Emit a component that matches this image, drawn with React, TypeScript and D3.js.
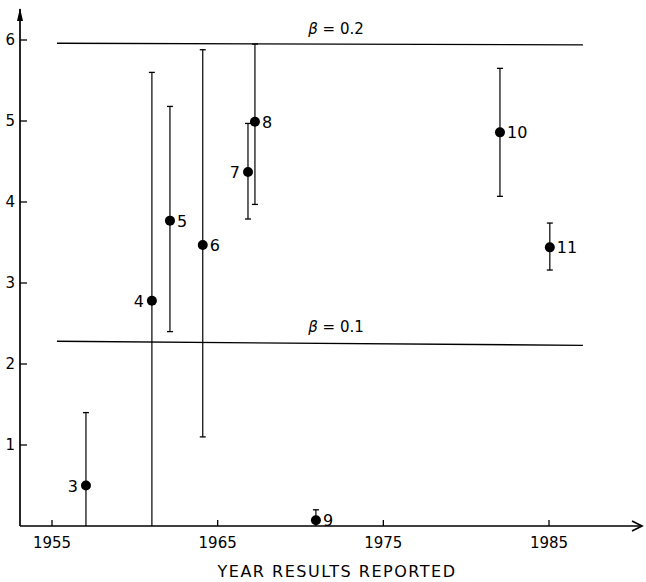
import React, { useEffect, useRef } from 'react';
import * as d3 from 'd3';

// study number, year reported, estimate, error bar low/high
const ids = ['3', '4', '5', '6', '7', '8', '9', '10', '11'];
const years = [1957.05, 1961.03, 1962.12, 1964.1, 1966.83, 1967.25, 1970.93, 1982.04, 1985.05];
const values = [0.5, 2.78, 3.77, 3.47, 4.37, 4.99, 0.07, 4.86, 3.44];
const lows = [0, 0, 2.4, 1.1, 3.79, 3.97, 0, 4.07, 3.16];
const highs = [1.4, 5.6, 5.18, 5.88, 4.97, 5.95, 0.2, 5.65, 3.74];
const labelLeft = ['3', '4', '7'];

const xTicks = [1955, 1965, 1975, 1985];
const yTicks = [1, 2, 3, 4, 5, 6];

// reference lines: value text, start / end year, value at start / end
const refLabels = ['0.2', '0.1'];
const refX = [[1955.3, 1987.05], [1955.3, 1987.05]];
const refY = [[5.96, 5.94], [2.28, 2.23]];

const W = 646;
const H = 582;

const App = () => {
  const ref = useRef<SVGSVGElement>(null);

  useEffect(() => {
    const svg = d3.select(ref.current);
    svg.selectAll('*').remove();

    const x = d3.scaleLinear().domain([1955, 1985]).range([52, 549]);
    const y = d3.scaleLinear().domain([0, 6]).range([526, 40]);
    const x0 = 20;
    const y0 = y(0);
    const font = 'DejaVu Sans, sans-serif';

    // axes with arrows
    svg.append('line')
      .attr('x1', x0).attr('y1', y0).attr('x2', 641).attr('y2', y0)
      .attr('stroke', '#000').attr('stroke-width', 1.7);
    svg.append('path')
      .attr('d', `M632,${y0 - 5} L642,${y0} L632,${y0 + 5}`)
      .attr('fill', 'none').attr('stroke', '#000').attr('stroke-width', 1.7);
    svg.append('line')
      .attr('x1', x0).attr('y1', y0).attr('x2', x0).attr('y2', 9)
      .attr('stroke', '#000').attr('stroke-width', 1.7);
    svg.append('path')
      .attr('d', `M${x0 - 3},21 L${x0},8 L${x0 + 3},21 Z`)
      .attr('fill', '#000');

    // x ticks
    const xt = svg.append('g');
    xTicks.forEach((t) => {
      xt.append('line')
        .attr('x1', x(t)).attr('x2', x(t)).attr('y1', y0).attr('y2', y0 - 6)
        .attr('stroke', '#000').attr('stroke-width', 1.3);
      xt.append('text')
        .attr('x', x(t)).attr('y', y0 + 22)
        .attr('text-anchor', 'middle')
        .attr('font-family', font).attr('font-size', 15)
        .text(t);
    });

    // y ticks
    const yt = svg.append('g');
    yTicks.forEach((t) => {
      yt.append('line')
        .attr('x1', x0).attr('x2', x0 + 7).attr('y1', y(t)).attr('y2', y(t))
        .attr('stroke', '#000').attr('stroke-width', 1.3);
      yt.append('text')
        .attr('x', x0 - 5).attr('y', y(t) + 5)
        .attr('text-anchor', 'end')
        .attr('font-family', font).attr('font-size', 15)
        .text(t);
    });

    svg.append('text')
      .attr('x', 337).attr('y', 577)
      .attr('text-anchor', 'middle')
      .attr('font-family', font).attr('font-size', 16)
      .attr('letter-spacing', 1.5)
      .text('YEAR RESULTS REPORTED');

    // beta lines
    refLabels.forEach((lab, i) => {
      svg.append('line')
        .attr('x1', x(refX[i][0])).attr('x2', x(refX[i][1]))
        .attr('y1', y(refY[i][0])).attr('y2', y(refY[i][1]))
        .attr('stroke', '#000').attr('stroke-width', 1.4);
      const t = svg.append('text')
        .attr('x', 336).attr('y', y(refY[i][0]) - 9)
        .attr('text-anchor', 'middle')
        .attr('font-family', font).attr('font-size', 15);
      t.append('tspan').attr('font-style', 'italic').text('\u03B2');
      t.append('tspan').text(` = ${lab}`);
    });

    // error bars and points
    const g = svg.append('g');
    ids.forEach((id, i) => {
      const cx = x(years[i]);
      g.append('line')
        .attr('x1', cx).attr('x2', cx).attr('y1', y(lows[i])).attr('y2', y(highs[i]))
        .attr('stroke', '#000').attr('stroke-width', 1.2);
      g.append('line')
        .attr('x1', cx - 3).attr('x2', cx + 3).attr('y1', y(highs[i])).attr('y2', y(highs[i]))
        .attr('stroke', '#000').attr('stroke-width', 1.3);
      if (lows[i] > 0) {
        g.append('line')
          .attr('x1', cx - 3).attr('x2', cx + 3).attr('y1', y(lows[i])).attr('y2', y(lows[i]))
          .attr('stroke', '#000').attr('stroke-width', 1.3);
      }
      g.append('circle')
        .attr('cx', cx).attr('cy', y(values[i])).attr('r', 5)
        .attr('fill', '#000');
      const left = labelLeft.includes(id);
      g.append('text')
        .attr('x', left ? cx - 8 : cx + 7)
        .attr('y', y(values[i]) + 6)
        .attr('text-anchor', left ? 'end' : 'start')
        .attr('font-family', font).attr('font-size', 16)
        .text(id);
    });
  }, []);

  return (
    <svg
      ref={ref}
      width={W}
      height={H}
      style={{ position: 'absolute', left: 0, top: 0, background: '#fff', overflow: 'visible' }}
    ></svg>
  );
};

export default App;
